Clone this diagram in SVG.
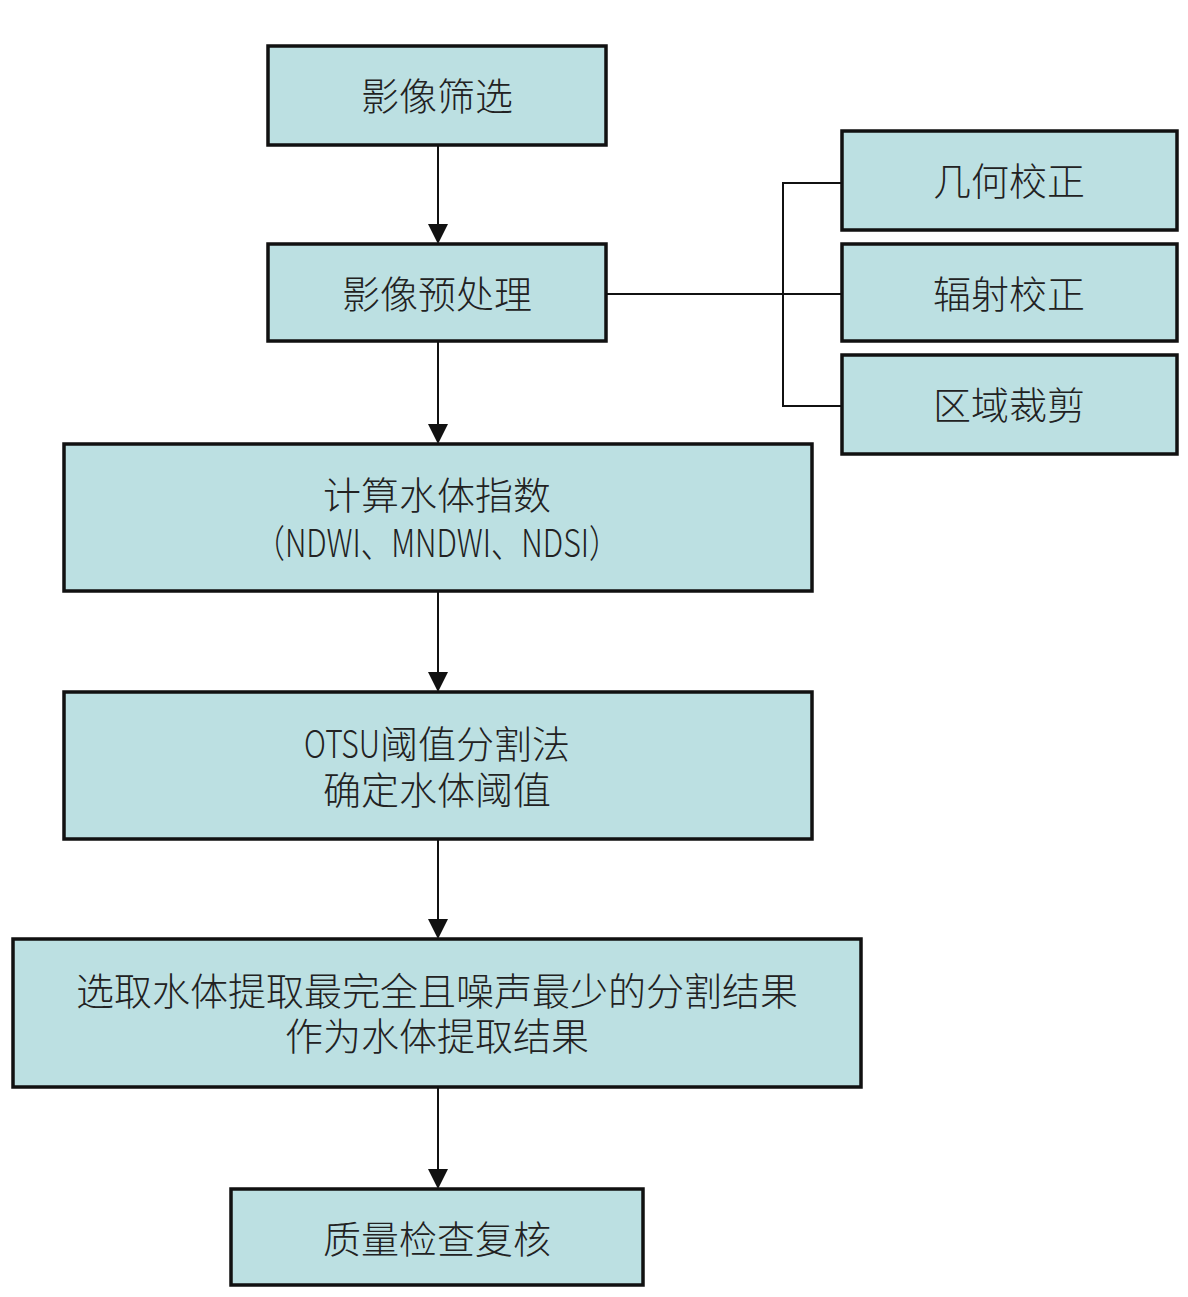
<svg xmlns="http://www.w3.org/2000/svg" width="1188" height="1297" viewBox="0 0 1188 1297">
<defs>
<style>
.box{fill:#bce0e2;stroke:#111;stroke-width:3.5}
.t{font-family:"Noto Sans CJK SC","Noto Sans",sans-serif;font-size:38px;font-weight:300;fill:#222;text-anchor:middle;dominant-baseline:central}
.c{fill:none;stroke:#111;stroke-width:2}
.ah{fill:#111}
</style>
</defs>
<rect width="1188" height="1297" fill="#fff"/>
<g id="connectors">
<path class="c" d="M438,145 V232"/>
<path class="ah" d="M428,224 L448,224 L438,244 Z"/>
<path class="c" d="M438,341 V432"/>
<path class="ah" d="M428,424 L448,424 L438,444 Z"/>
<path class="c" d="M438,591 V680"/>
<path class="ah" d="M428,672 L448,672 L438,692 Z"/>
<path class="c" d="M438,839 V927"/>
<path class="ah" d="M428,919 L448,919 L438,939 Z"/>
<path class="c" d="M438,1087 V1177"/>
<path class="ah" d="M428,1169 L448,1169 L438,1189 Z"/>
<path class="c" d="M606,294 H842"/>
<path class="c" d="M845,183 H783 V406 H842"/>
</g>
<g id="n1"><rect class="box" x="268" y="46" width="338" height="99"/><text class="t" x="437" y="93">影像筛选</text></g>
<g id="n2"><rect class="box" x="268" y="244" width="338" height="97"/><text class="t" x="437" y="291">影像预处理</text></g>
<g id="n3"><rect class="box" x="842" y="131" width="335" height="99"/><text class="t" x="1009" y="178">几何校正</text></g>
<g id="n4"><rect class="box" x="842" y="244" width="335" height="97"/><text class="t" x="1009" y="291">辐射校正</text></g>
<g id="n5"><rect class="box" x="842" y="355" width="335" height="99"/><text class="t" x="1009" y="402">区域裁剪</text></g>
<g id="n6"><rect class="box" x="64" y="444" width="748" height="147"/><text class="t"><tspan x="437" y="492">计算水体指数</tspan><tspan x="437" y="540" textLength="365" lengthAdjust="spacingAndGlyphs">（NDWI、MNDWI、NDSI）</tspan></text></g>
<g id="n7"><rect class="box" x="64" y="692" width="748" height="147"/><text class="t"><tspan x="437" y="741"><tspan textLength="76" lengthAdjust="spacingAndGlyphs">OTSU</tspan>阈值分割法</tspan><tspan x="437" y="787">确定水体阈值</tspan></text></g>
<g id="n8"><rect class="box" x="13" y="939" width="848" height="148"/><text class="t"><tspan x="437" y="988">选取水体提取最完全且噪声最少的分割结果</tspan><tspan x="437" y="1033">作为水体提取结果</tspan></text></g>
<g id="n9"><rect class="box" x="231" y="1189" width="412" height="96"/><text class="t" x="437" y="1236">质量检查复核</text></g>
</svg>
